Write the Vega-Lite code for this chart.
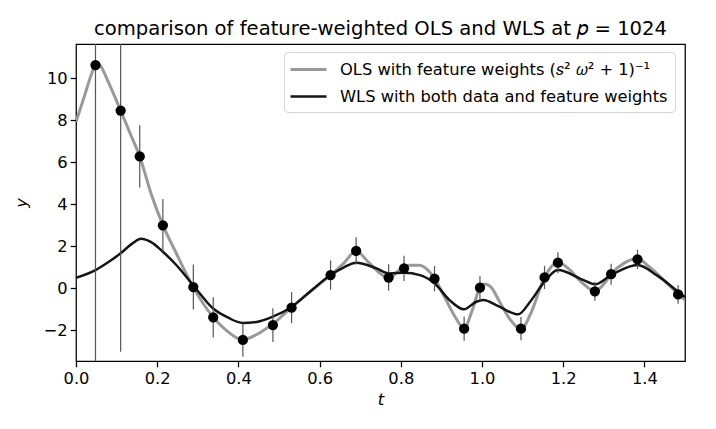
{
  "$schema": "https://vega.github.io/schema/vega-lite/v6.json",
  "width": 609,
  "height": 317,
  "autosize": {"type": "none"},
  "padding": {"left": 76, "top": 44, "right": 31, "bottom": 68},
  "background": "white",
  "config": {
    "font": "DejaVu Sans",
    "view": {"stroke": "black", "strokeWidth": 1.25},
    "axis": {
      "grid": false,
      "domain": false,
      "labelFlush": false,
      "tickColor": "black",
      "tickWidth": 1.25,
      "tickSize": 5.8,
      "labelFont": "DejaVu Sans",
      "labelFontSize": 16.3,
      "labelColor": "black",
      "titleFont": "DejaVu Sans",
      "titleFontSize": 16.3,
      "titleFontWeight": "normal",
      "titleFontStyle": "italic",
      "titleColor": "black"
    }
  },
  "title": {
    "text": "comparison of feature-weighted OLS and WLS at 𝑝 = 1024",
    "font": "DejaVu Sans",
    "fontSize": 19.6,
    "fontWeight": "normal",
    "color": "black",
    "anchor": "middle",
    "offset": 4
  },
  "datasets": {
    "curves": [
      {"t": 0.000, "y": 7.93, "model": "OLS"},
      {"t": 0.020, "y": 9.1, "model": "OLS"},
      {"t": 0.040, "y": 10.3, "model": "OLS"},
      {"t": 0.050, "y": 10.72, "model": "OLS"},
      {"t": 0.060, "y": 10.6, "model": "OLS"},
      {"t": 0.080, "y": 9.8, "model": "OLS"},
      {"t": 0.110, "y": 8.46, "model": "OLS"},
      {"t": 0.135, "y": 7.3, "model": "OLS"},
      {"t": 0.157, "y": 6.28, "model": "OLS"},
      {"t": 0.186, "y": 4.44, "model": "OLS"},
      {"t": 0.214, "y": 3.01, "model": "OLS"},
      {"t": 0.247, "y": 1.67, "model": "OLS"},
      {"t": 0.288, "y": 0.08, "model": "OLS"},
      {"t": 0.337, "y": -1.35, "model": "OLS"},
      {"t": 0.370, "y": -2.0, "model": "OLS"},
      {"t": 0.410, "y": -2.45, "model": "OLS"},
      {"t": 0.445, "y": -2.2, "model": "OLS"},
      {"t": 0.477, "y": -1.8, "model": "OLS"},
      {"t": 0.500, "y": -1.45, "model": "OLS"},
      {"t": 0.531, "y": -0.9, "model": "OLS"},
      {"t": 0.580, "y": -0.1, "model": "OLS"},
      {"t": 0.627, "y": 0.63, "model": "OLS"},
      {"t": 0.660, "y": 1.2, "model": "OLS"},
      {"t": 0.690, "y": 1.78, "model": "OLS"},
      {"t": 0.720, "y": 1.25, "model": "OLS"},
      {"t": 0.750, "y": 0.7, "model": "OLS"},
      {"t": 0.771, "y": 0.47, "model": "OLS"},
      {"t": 0.795, "y": 0.85, "model": "OLS"},
      {"t": 0.822, "y": 1.1, "model": "OLS"},
      {"t": 0.846, "y": 1.1, "model": "OLS"},
      {"t": 0.870, "y": 0.8, "model": "OLS"},
      {"t": 0.883, "y": 0.47, "model": "OLS"},
      {"t": 0.910, "y": -0.5, "model": "OLS"},
      {"t": 0.935, "y": -1.4, "model": "OLS"},
      {"t": 0.956, "y": -1.9, "model": "OLS"},
      {"t": 0.975, "y": -1.1, "model": "OLS"},
      {"t": 0.995, "y": 0.03, "model": "OLS"},
      {"t": 1.006, "y": 0.2, "model": "OLS"},
      {"t": 1.020, "y": 0.1, "model": "OLS"},
      {"t": 1.045, "y": -0.7, "model": "OLS"},
      {"t": 1.070, "y": -1.5, "model": "OLS"},
      {"t": 1.096, "y": -1.95, "model": "OLS"},
      {"t": 1.120, "y": -1.2, "model": "OLS"},
      {"t": 1.154, "y": 0.52, "model": "OLS"},
      {"t": 1.187, "y": 1.24, "model": "OLS"},
      {"t": 1.215, "y": 0.9, "model": "OLS"},
      {"t": 1.245, "y": 0.3, "model": "OLS"},
      {"t": 1.278, "y": -0.13, "model": "OLS"},
      {"t": 1.300, "y": 0.2, "model": "OLS"},
      {"t": 1.318, "y": 0.68, "model": "OLS"},
      {"t": 1.350, "y": 1.2, "model": "OLS"},
      {"t": 1.383, "y": 1.42, "model": "OLS"},
      {"t": 1.410, "y": 1.05, "model": "OLS"},
      {"t": 1.450, "y": 0.35, "model": "OLS"},
      {"t": 1.483, "y": -0.27, "model": "OLS"},
      {"t": 1.500, "y": -0.55, "model": "OLS"},
      {"t": 0.000, "y": 0.5, "model": "WLS"},
      {"t": 0.048, "y": 0.87, "model": "WLS"},
      {"t": 0.080, "y": 1.25, "model": "WLS"},
      {"t": 0.110, "y": 1.67, "model": "WLS"},
      {"t": 0.140, "y": 2.15, "model": "WLS"},
      {"t": 0.160, "y": 2.36, "model": "WLS"},
      {"t": 0.185, "y": 2.2, "model": "WLS"},
      {"t": 0.214, "y": 1.74, "model": "WLS"},
      {"t": 0.247, "y": 1.11, "model": "WLS"},
      {"t": 0.288, "y": 0.16, "model": "WLS"},
      {"t": 0.337, "y": -0.95, "model": "WLS"},
      {"t": 0.375, "y": -1.4, "model": "WLS"},
      {"t": 0.410, "y": -1.65, "model": "WLS"},
      {"t": 0.445, "y": -1.6, "model": "WLS"},
      {"t": 0.485, "y": -1.35, "model": "WLS"},
      {"t": 0.530, "y": -0.9, "model": "WLS"},
      {"t": 0.580, "y": -0.1, "model": "WLS"},
      {"t": 0.627, "y": 0.63, "model": "WLS"},
      {"t": 0.660, "y": 1.0, "model": "WLS"},
      {"t": 0.690, "y": 1.22, "model": "WLS"},
      {"t": 0.740, "y": 0.95, "model": "WLS"},
      {"t": 0.771, "y": 0.71, "model": "WLS"},
      {"t": 0.808, "y": 0.74, "model": "WLS"},
      {"t": 0.847, "y": 0.63, "model": "WLS"},
      {"t": 0.883, "y": 0.24, "model": "WLS"},
      {"t": 0.920, "y": -0.56, "model": "WLS"},
      {"t": 0.955, "y": -1.0, "model": "WLS"},
      {"t": 0.986, "y": -0.64, "model": "WLS"},
      {"t": 1.003, "y": -0.56, "model": "WLS"},
      {"t": 1.040, "y": -0.85, "model": "WLS"},
      {"t": 1.089, "y": -1.24, "model": "WLS"},
      {"t": 1.120, "y": -0.6, "model": "WLS"},
      {"t": 1.154, "y": 0.32, "model": "WLS"},
      {"t": 1.187, "y": 0.87, "model": "WLS"},
      {"t": 1.249, "y": 0.4, "model": "WLS"},
      {"t": 1.278, "y": 0.19, "model": "WLS"},
      {"t": 1.318, "y": 0.63, "model": "WLS"},
      {"t": 1.383, "y": 1.11, "model": "WLS"},
      {"t": 1.430, "y": 0.63, "model": "WLS"},
      {"t": 1.483, "y": -0.16, "model": "WLS"},
      {"t": 1.500, "y": -0.42, "model": "WLS"}
    ],
    "obs": [
      {"t": 0.048, "y": 10.63, "lo": -6.0, "hi": 26.0},
      {"t": 0.110, "y": 8.46, "lo": -3.02, "hi": 19.94},
      {"t": 0.157, "y": 6.28, "lo": 4.8, "hi": 7.76},
      {"t": 0.214, "y": 3.0, "lo": 1.75, "hi": 4.25},
      {"t": 0.289, "y": 0.06, "lo": -1.01, "hi": 1.13},
      {"t": 0.338, "y": -1.38, "lo": -2.34, "hi": -0.42},
      {"t": 0.411, "y": -2.46, "lo": -3.26, "hi": -1.66},
      {"t": 0.485, "y": -1.75, "lo": -2.55, "hi": -0.95},
      {"t": 0.531, "y": -0.92, "lo": -1.66, "hi": -0.18},
      {"t": 0.627, "y": 0.63, "lo": -0.07, "hi": 1.33},
      {"t": 0.690, "y": 1.78, "lo": 1.13, "hi": 2.43},
      {"t": 0.770, "y": 0.51, "lo": -0.12, "hi": 1.14},
      {"t": 0.808, "y": 0.95, "lo": 0.35, "hi": 1.55},
      {"t": 0.883, "y": 0.46, "lo": -0.14, "hi": 1.06},
      {"t": 0.956, "y": -1.92, "lo": -2.5, "hi": -1.34},
      {"t": 0.995, "y": 0.03, "lo": -0.52, "hi": 0.58},
      {"t": 1.096, "y": -1.92, "lo": -2.47, "hi": -1.37},
      {"t": 1.154, "y": 0.52, "lo": -0.03, "hi": 1.07},
      {"t": 1.187, "y": 1.22, "lo": 0.72, "hi": 1.72},
      {"t": 1.278, "y": -0.14, "lo": -0.59, "hi": 0.31},
      {"t": 1.318, "y": 0.67, "lo": 0.17, "hi": 1.17},
      {"t": 1.383, "y": 1.38, "lo": 0.92, "hi": 1.84},
      {"t": 1.483, "y": -0.29, "lo": -0.74, "hi": 0.16}
    ]
  },
  "layer": [
    {
      "data": {"name": "curves"},
      "mark": {"type": "line", "interpolate": "monotone", "clip": true},
      "encoding": {
        "x": {
          "field": "t",
          "type": "quantitative",
          "title": "t",
          "scale": {"domain": [0, 1.5], "nice": false, "zero": false},
          "axis": {"values": [0, 0.2, 0.4, 0.6, 0.8, 1.0, 1.2, 1.4], "format": ".1f", "labelPadding": 4, "titlePadding": 4}
        },
        "y": {
          "field": "y",
          "type": "quantitative",
          "title": "y",
          "scale": {"domain": [-3.46, 11.63], "nice": false, "zero": false},
          "axis": {"values": [-2, 0, 2, 4, 6, 8, 10], "labelPadding": 3, "titlePadding": 14}
        },
        "color": {
          "field": "model",
          "type": "nominal",
          "scale": {"domain": ["OLS", "WLS"], "range": ["#999999", "#151515"]},
          "legend": {
            "title": null,
            "orient": "none",
            "legendX": 208,
            "legendY": 8,
            "labelExpr": "datum.value == 'OLS' ? 'OLS with feature weights (𝑠² 𝜔² + 1)⁻¹' : 'WLS with both data and feature weights'",
            "labelFont": "DejaVu Sans",
            "labelFontSize": 16.3,
            "labelColor": "black",
            "labelLimit": 500,
            "labelOffset": 28,
            "symbolType": "M-1.22,0H2.78",
            "symbolSize": 324,
            "symbolStrokeWidth": 2.6,
            "rowPadding": 8,
            "padding": 7,
            "fillColor": "white",
            "strokeColor": "#d5d5d5",
            "cornerRadius": 4
          }
        },
        "strokeWidth": {
          "field": "model",
          "type": "nominal",
          "scale": {"domain": ["OLS", "WLS"], "range": [3, 2.5]},
          "legend": null
        }
      }
    },
    {
      "data": {"name": "obs"},
      "mark": {"type": "rule", "clip": true, "color": "#555555", "strokeWidth": 1.2},
      "encoding": {
        "x": {"field": "t", "type": "quantitative"},
        "y": {"field": "lo", "type": "quantitative"},
        "y2": {"field": "hi"}
      }
    },
    {
      "data": {"name": "obs"},
      "mark": {"type": "circle", "color": "black", "opacity": 1, "size": 105},
      "encoding": {
        "x": {"field": "t", "type": "quantitative"},
        "y": {"field": "y", "type": "quantitative"}
      }
    }
  ]
}
